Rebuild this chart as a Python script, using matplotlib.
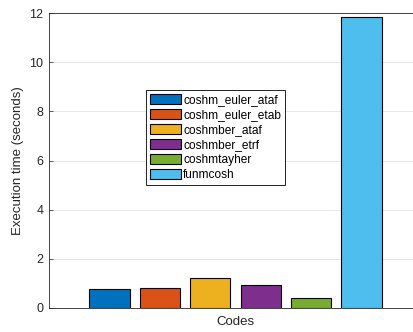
import matplotlib.pyplot as plt

# Data
codes = ['coshm_euler_ataf', 'coshm_euler_etab', 'coshmber_ataf',
         'coshmber_etrf', 'coshmtayher', 'funmcosh']
times = [0.77, 0.81, 1.22, 0.93, 0.40, 11.85]
colors = ['#0072BD', '#D95319', '#EDB120', '#7E2F8E', '#77AC30', '#4DBEEE']

plt.rcParams['font.family'] = ['Liberation Sans', 'DejaVu Sans']
plt.rcParams['font.size'] = 8.5

W, H = 414, 332
fig = plt.figure(figsize=(W / 100, H / 100), dpi=100)
# axes extends past the right edge (cropped like the original)
ax = fig.add_axes([49 / W, 24 / H, (422 - 49) / W, 295 / H])

positions = list(range(1, len(codes) + 1))
bars = ax.bar(positions, times, width=0.8, color=colors,
              edgecolor='black', linewidth=0.8, zorder=3)
for b, lab in zip(bars, codes):
    b.set_label(lab)

ax.set_xlim(-0.2, 7.2)
ax.set_ylim(0, 12)
ax.set_yticks([0, 2, 4, 6, 8, 10, 12])
ax.set_xticks([])

ax.grid(axis='y', color='#e3e3e3', linewidth=0.6, zorder=0)
ax.tick_params(axis='y', direction='in', length=3, width=0.5,
               colors='#262626', labelsize=9, right=True, pad=4)
for s in ax.spines.values():
    s.set_color('#262626')
    s.set_linewidth(0.6)

ax.set_ylabel('Execution time (seconds)', color='#262626', fontsize=9.5, labelpad=4)
ax.set_xlabel('Codes', color='#262626', fontsize=9.5, labelpad=6)

leg = ax.legend(loc='upper left', bbox_to_anchor=(146 / W, 1 - 90 / H),
                bbox_transform=fig.transFigure, borderaxespad=0,
                fancybox=False, framealpha=1, edgecolor='black',
                handlelength=2.6, handleheight=0.8, handletextpad=0.15,
                labelspacing=0.25, borderpad=0.35, fontsize=8.6)
leg.get_frame().set_linewidth(0.6)

fig.savefig('out.png', dpi=100)
